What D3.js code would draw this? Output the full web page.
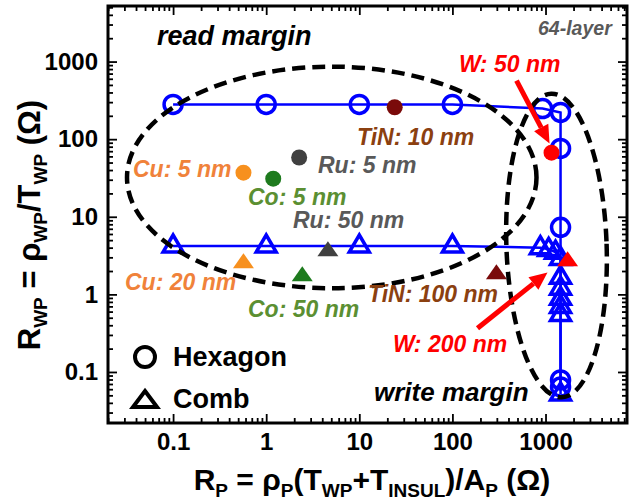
<!DOCTYPE html>
<html>
<head>
<meta charset="utf-8">
<script src="https://cdn.jsdelivr.net/npm/d3@7"></script>
<style>
body { margin: 0; background: #fff; }
text { font-family: "Liberation Sans", Arial, sans-serif; font-weight: bold; }
</style>
</head>
<body>
<svg width="636" height="504"></svg>
<script>
// Hexagon series (open circles)
var hexX = [0.1, 1, 10, 100, 930, 1450, 1450, 1450, 1450, 1450]
var hexY = [280, 280, 280, 280, 248, 221, 76, 7.3, 0.079, 0.064]
// Comb series (open triangles)
var combX = [0.1, 1, 10, 100, 880, 1080, 1280, 1450, 1450, 1450, 1450, 1450, 1450, 1450]
var combY = [4.2, 4.2, 4.2, 4.2, 4.0, 3.8, 3.5, 2.9, 1.66, 1.2, 0.89, 0.70, 0.55, 0.052]

// single metal points
var metals = ["Cu", "Co", "Ru", "TiN", "W"]
var metalColors = ["#f7901e", "#1e7b1e", "#404040", "#7a0a0a", "#ff0000"]
var labelColors = ["#f0823a", "#5b8f32", "#595959", "#8b4010", "#ff0000"]
var hexMetalX = [0.57, 1.19, 2.26, 24, 1160]
var hexMetalY = [37, 31, 58, 258, 67]
var hexMetalT = ["5 nm", "5 nm", "5 nm", "10 nm", "50 nm"]
var combMetalX = [0.57, 2.44, 4.6, 297, 1725]
var combMetalY = [2.6, 1.76, 3.7, 1.87, 2.75]
var combMetalT = ["20 nm", "50 nm", "50 nm", "100 nm", "200 nm"]

var xTicks = [0.1, 1, 10, 100, 1000]
var yTicks = [0.1, 1, 10, 100, 1000]

var svg = d3.select("svg")
var L = 108, R = 627, T = 6, B = 423

var scX = d3.scaleLog().domain([0.02, 7500]).range([L, R])
var scY = d3.scaleLog().domain([0.022, 5200]).range([B, T])

var blue = "#0000ff"
var fmt = d3.format("~g")

// ---- axes: ticks inside on all four sides
var xMinor = scX.ticks().filter(d => xTicks.indexOf(+d.toPrecision(3)) < 0)
var yMinor = scY.ticks().filter(d => yTicks.indexOf(+d.toPrecision(3)) < 0)

var axes = svg.append("g")
var addAxis = function (maker, transform, vals, size, labels) {
    var g = axes.append("g").attr("transform", transform)
        .call(maker.tickValues(vals).tickSizeInner(-size).tickSizeOuter(0)
            .tickPadding(10).tickFormat(labels ? fmt : ""))
    g.select(".domain").remove()
    g.selectAll("line").attr("stroke-width", 1.8)
    g.selectAll("text").attr("font-size", 24).attr("fill", "#000")
        .style("font-family", "'Liberation Sans', Arial, sans-serif")
        .style("font-weight", "bold")
    return g
}
addAxis(d3.axisBottom(scX), `translate(0,${B})`, xTicks, 9, true)
addAxis(d3.axisBottom(scX), `translate(0,${B})`, xMinor, 5, false)
addAxis(d3.axisTop(scX), `translate(0,${T})`, xTicks, 9, false)
addAxis(d3.axisTop(scX), `translate(0,${T})`, xMinor, 5, false)
addAxis(d3.axisLeft(scY), `translate(${L},0)`, yTicks, 9, true)
addAxis(d3.axisLeft(scY), `translate(${L},0)`, yMinor, 5, false)
addAxis(d3.axisRight(scY), `translate(${R},0)`, yTicks, 9, false)
addAxis(d3.axisRight(scY), `translate(${R},0)`, yMinor, 5, false)

svg.append("rect").attr("x", L).attr("y", T)
    .attr("width", R - L).attr("height", B - T)
    .attr("fill", "none").attr("stroke", "#000").attr("stroke-width", 3)

// ---- axis titles
var subText = function (g, parts, big, small) {
    parts.forEach(function (p) {
        g.append("tspan").text(p[0])
            .attr("font-size", p[1] ? small : big)
            .attr("dy", p[1] ? 7 : (p[2] ? -7 : 0))
    })
}
var xt = svg.append("text").attr("x", 372).attr("y", 490).attr("text-anchor", "middle")
subText(xt, [["R"], ["P", 1], [" = \u03c1", 0, 1], ["P", 1], ["(T", 0, 1], ["WP", 1], ["+T", 0, 1],
    ["INSUL", 1], [")/A", 0, 1], ["P", 1], [" (\u03a9)", 0, 1]], 30, 19)

var yt = svg.append("text").attr("transform", "translate(40,225) rotate(-90)")
    .attr("text-anchor", "middle")
subText(yt, [["R"], ["WP", 1], [" = \u03c1", 0, 1], ["WP", 1], ["/T", 0, 1], ["WP", 1],
    [" (\u03a9)", 0, 1]], 31, 19)

// ---- series lines
var lineMaker = d3.line().x(d => scX(d[0])).y(d => scY(d[1]))
var hexData = hexX.map((d, i) => [d, hexY[i]])
var combData = combX.map((d, i) => [d, combY[i]])

svg.append("path").attr("d", lineMaker(hexData))
    .attr("fill", "none").attr("stroke", blue).attr("stroke-width", 2.5)
svg.append("path").attr("d", lineMaker(combData))
    .attr("fill", "none").attr("stroke", blue).attr("stroke-width", 2.5)

var tri = function (w, up, down) {
    return `M0,${-up}L${w / 2},${down}L${-w / 2},${down}Z`
}

svg.append("g").selectAll("circle").data(hexData).enter().append("circle")
    .attr("cx", d => scX(d[0])).attr("cy", d => scY(d[1])).attr("r", 9)
    .attr("fill", "none").attr("stroke", blue).attr("stroke-width", 3.5)

svg.append("g").selectAll("path").data(combData).enter().append("path")
    .attr("d", tri(20, 11, 6))
    .attr("transform", d => `translate(${scX(d[0])},${scY(d[1])})`)
    .attr("fill", "none").attr("stroke", blue).attr("stroke-width", 3.5)
    .attr("stroke-linejoin", "miter")

// ---- metal points
svg.append("g").selectAll("circle").data(metals).enter().append("circle")
    .attr("cx", (d, i) => scX(hexMetalX[i])).attr("cy", (d, i) => scY(hexMetalY[i]))
    .attr("r", 8).attr("fill", (d, i) => metalColors[i])

svg.append("g").selectAll("path").data(metals).enter().append("path")
    .attr("d", tri(21, 9, 6))
    .attr("transform", (d, i) => `translate(${scX(combMetalX[i])},${scY(combMetalY[i])})`)
    .attr("fill", (d, i) => metalColors[i])

// ---- dashed ellipses (extents in data space)
var ellipse = function (x0, x1, y0, y1, rot) {
    var cx = (scX(x0) + scX(x1)) / 2, cy = (scY(y0) + scY(y1)) / 2
    svg.append("ellipse")
        .attr("transform", `translate(${cx},${cy}) rotate(${rot})`)
        .attr("rx", Math.abs(scX(x1) - scX(x0)) / 2)
        .attr("ry", Math.abs(scY(y1) - scY(y0)) / 2)
        .attr("fill", "none").attr("stroke", "#000")
        .attr("stroke-width", 4.5).attr("stroke-dasharray", "13,7")
}
ellipse(0.032, 800, 860, 1.2, 0)
ellipse(380, 4530, 387, 0.047, -2)

// ---- red arrows
var arrow = function (xa, ya, xb, yb) {
    var x1 = scX(xa), y1 = scY(ya), x2 = scX(xb), y2 = scY(yb)
    var a = Math.atan2(y2 - y1, x2 - x1)
    var len = 18, hw = 8
    var bx = x2 - len * Math.cos(a), by = y2 - len * Math.sin(a)
    svg.append("line").attr("x1", x1).attr("y1", y1).attr("x2", bx).attr("y2", by)
        .attr("stroke", "#ff0000").attr("stroke-width", 5)
    svg.append("path").attr("fill", "#ff0000")
        .attr("d", `M${x2},${y2}L${bx + hw * Math.sin(a)},${by - hw * Math.cos(a)}` +
            `L${bx - hw * Math.sin(a)},${by + hw * Math.cos(a)}Z`)
}
arrow(488, 569, 1105, 88)
arrow(186, 0.366, 1050, 1.92)

// ---- labels
var hexLabPos = [[133, 177], [248, 205], [318, 173], [357, 145], [459, 72]]
var combLabPos = [[125, 290], [248, 317], [293, 228], [368, 302], [393, 352]]

var lab = function (x, y, txt, color, size) {
    svg.append("text").attr("x", x).attr("y", y).text(txt)
        .attr("fill", color).attr("font-size", size).attr("font-style", "italic")
}
metals.forEach(function (m, i) {
    lab(hexLabPos[i][0], hexLabPos[i][1], m + ": " + hexMetalT[i], labelColors[i], 23)
    lab(combLabPos[i][0], combLabPos[i][1], m + ": " + combMetalT[i], labelColors[i], 23)
})
lab(157, 45, "read margin", "#000", 27)
lab(374, 401, "write margin", "#000", 26)
lab(538, 35, "64-layer", "#595959", 19.5)

// ---- legend
svg.append("circle").attr("cx", 145).attr("cy", 357).attr("r", 10)
    .attr("fill", "none").attr("stroke", "#000").attr("stroke-width", 4)
svg.append("path").attr("d", tri(24, 9, 7)).attr("transform", "translate(145,400)")
    .attr("fill", "none").attr("stroke", "#000").attr("stroke-width", 4)
svg.append("text").attr("x", 173).attr("y", 366).attr("font-size", 27).text("Hexagon")
svg.append("text").attr("x", 173).attr("y", 408).attr("font-size", 27).text("Comb")
</script>
</body>
</html>
